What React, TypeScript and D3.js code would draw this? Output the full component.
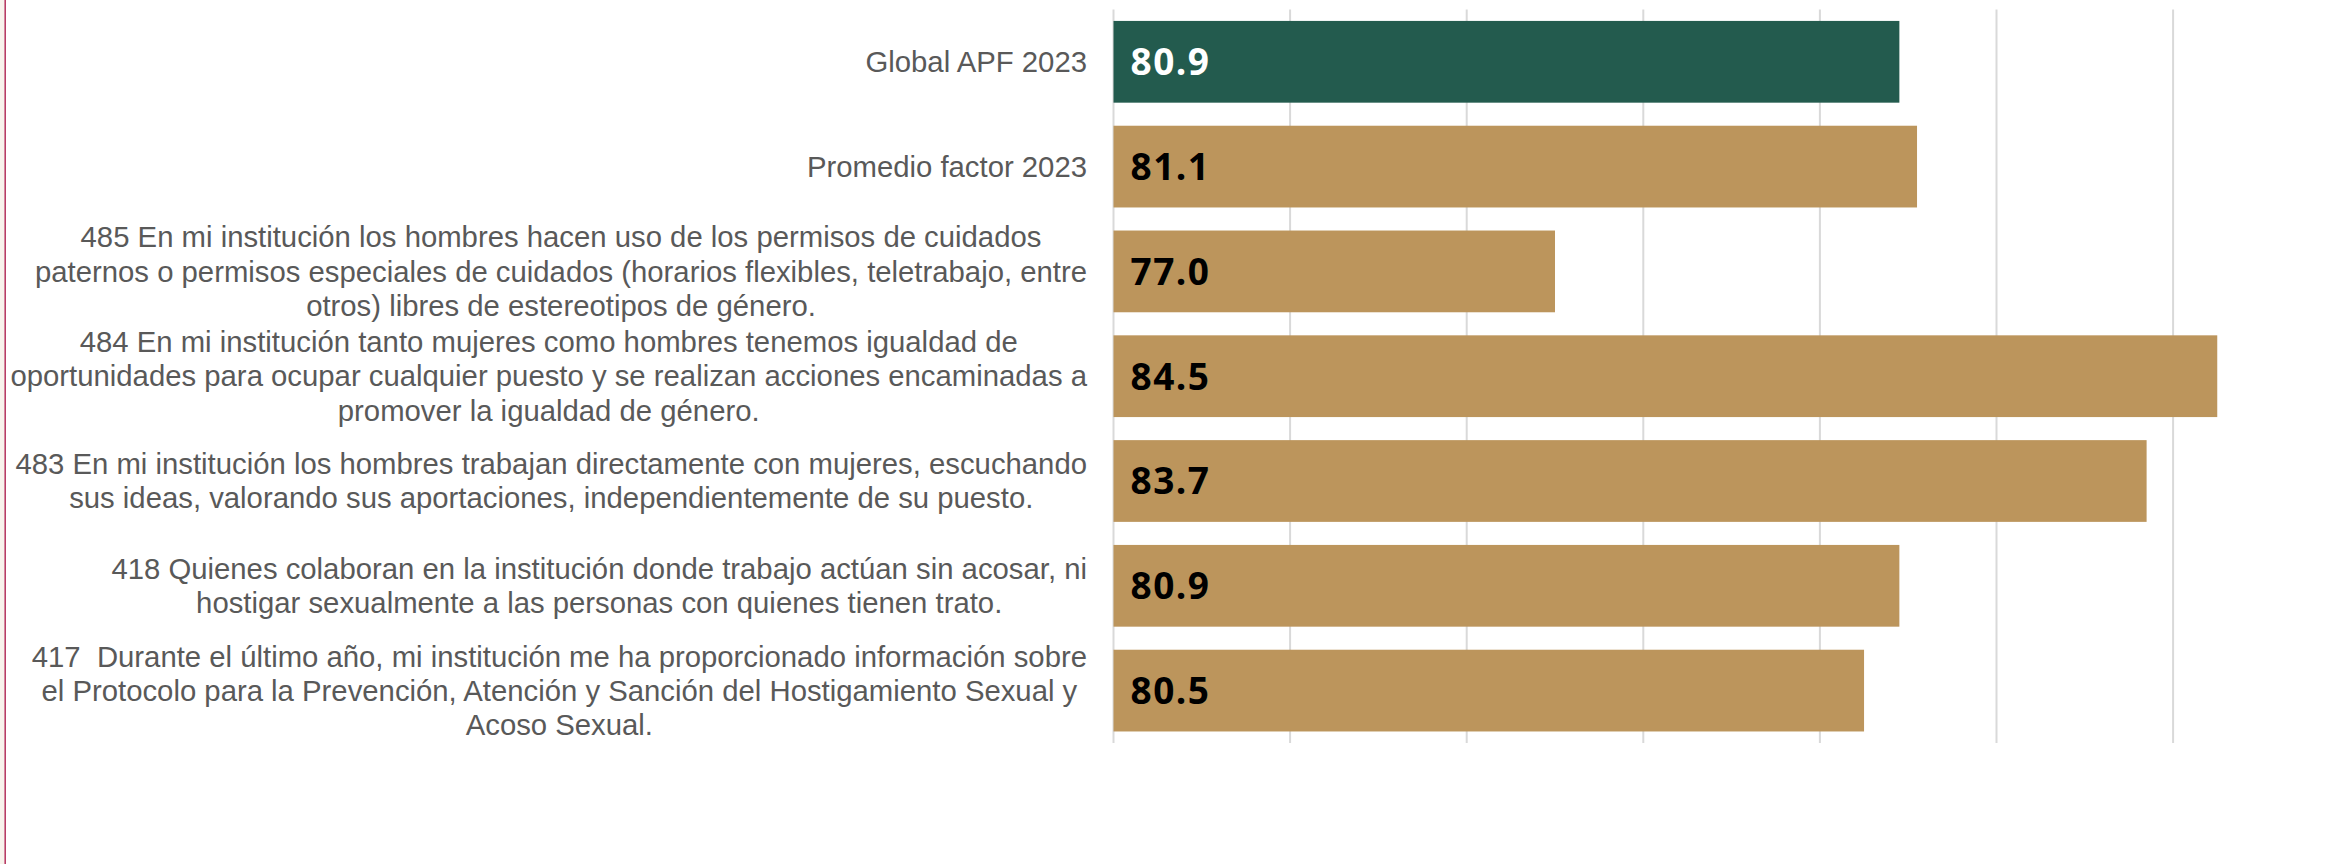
import { useEffect, useRef } from 'react'
import * as d3 from 'd3'

// Reactivos (tal como aparecen, con sus saltos de línea)
const labels: string[][] = [
  ['Global APF 2023'],
  ['Promedio factor 2023'],
  [
    '485 En mi institución los hombres hacen uso de los permisos de cuidados',
    'paternos o permisos especiales de cuidados (horarios flexibles, teletrabajo, entre',
    'otros) libres de estereotipos de género.',
  ],
  [
    '484 En mi institución tanto mujeres como hombres tenemos igualdad de',
    'oportunidades para ocupar cualquier puesto y se realizan acciones encaminadas a',
    'promover la igualdad de género.',
  ],
  [
    '483 En mi institución los hombres trabajan directamente con mujeres, escuchando',
    'sus ideas, valorando sus aportaciones, independientemente de su puesto.',
  ],
  [
    '418 Quienes colaboran en la institución donde trabajo actúan sin acosar, ni',
    'hostigar sexualmente a las personas con quienes tienen trato.',
  ],
  [
    '417  Durante el último año, mi institución me ha proporcionado información sobre',
    'el Protocolo para la Prevención, Atención y Sanción del Hostigamiento Sexual y',
    'Acoso Sexual.',
  ],
]
const values = [80.9, 81.1, 77.0, 84.5, 83.7, 80.9, 80.5]
const xTicks = [72, 74, 76, 78, 80, 82, 84, 86]
const xDomain: [number, number] = [72, 86]

const WIDTH = 2330
const HEIGHT = 864
const GREEN = '#235B4E'
const GOLD = '#BC955C'

export default function App() {
  const svgRef = useRef<SVGSVGElement>(null)

  useEffect(() => {
    document.body.style.margin = '0'
    if (!svgRef.current) return

    const svg = d3.select(svgRef.current)
    svg.selectAll('*').remove()

    const plot = { left: 1113.5, top: 9.4, bottom: 743 }
    const labelRight = 1087
    const lineH = 34.3

    const x = d3.scaleLinear().domain(xDomain).range([plot.left, plot.left + 88.3 * (xDomain[1] - xDomain[0])])
    const y = d3.scaleBand<number>()
      .domain(values.map((_, i) => i))
      .range([plot.top, plot.bottom])
      .paddingInner(0.22)
      .paddingOuter(0.11)

    // left page edge
    svg.append('rect').attr('x', 0).attr('y', 0).attr('width', 4.5).attr('height', HEIGHT).attr('fill', '#f8f3ec')
    svg.append('line').attr('x1', 5.2).attr('x2', 5.2).attr('y1', 0).attr('y2', HEIGHT)
      .attr('stroke', '#b83d65').attr('stroke-width', 1.6)

    // Grid
    svg.append('g')
      .selectAll('line')
      .data(xTicks.filter(t => x(t) <= WIDTH))
      .join('line')
      .attr('x1', d => x(d)).attr('x2', d => x(d))
      .attr('y1', plot.top).attr('y2', plot.bottom)
      .attr('stroke', '#d9d9d9').attr('stroke-width', 2)

    // Bars
    svg.append('g')
      .selectAll('rect')
      .data(values)
      .join('rect')
      .attr('x', x(xDomain[0]))
      .attr('y', (_, i) => y(i)!)
      .attr('width', d => x(d) - x(xDomain[0]))
      .attr('height', y.bandwidth())
      .attr('fill', (_, i) => (i === 0 ? GREEN : GOLD))

    // Value labels
    svg.append('g')
      .selectAll('text')
      .data(values)
      .join('text')
      .attr('x', x(xDomain[0]) + 17)
      .attr('y', (_, i) => y(i)! + y.bandwidth() / 2)
      .attr('dy', '0.36em')
      .attr('font-family', '"Open Sans", sans-serif')
      .attr('font-weight', 700)
      .attr('font-size', '37px')
      .attr('letter-spacing', '1.5px')
      .attr('fill', (_, i) => (i === 0 ? '#ffffff' : '#000000'))
      .text(d => d.toFixed(1))

    // Category labels: centered block, right-aligned to the axis
    const lg = svg.append('g')
      .attr('font-family', '"Liberation Sans", Arial, sans-serif')
      .attr('font-size', '29.3px')
      .attr('fill', '#595959')
      .attr('text-anchor', 'middle')

    labels.forEach((lines, i) => {
      const cy = y(i)! + y.bandwidth() / 2
      const texts = lines.map((line, j) =>
        lg.append('text')
          .attr('xml:space', 'preserve')
          .style('white-space', 'pre')
          .attr('y', cy + (j - (lines.length - 1) / 2) * lineH)
          .attr('dy', '0.35em')
          .text(line)
      )
      const maxW = d3.max(texts, t => (t.node() as SVGTextElement).getComputedTextLength()) ?? 0
      texts.forEach(t => t.attr('x', labelRight - maxW / 2))
    })
  }, [])

  return (
    <div style={{ width: WIDTH, height: HEIGHT, background: '#fff' }}>
      <svg ref={svgRef} width={WIDTH} height={HEIGHT} style={{ display: 'block' }} />
    </div>
  )
}
